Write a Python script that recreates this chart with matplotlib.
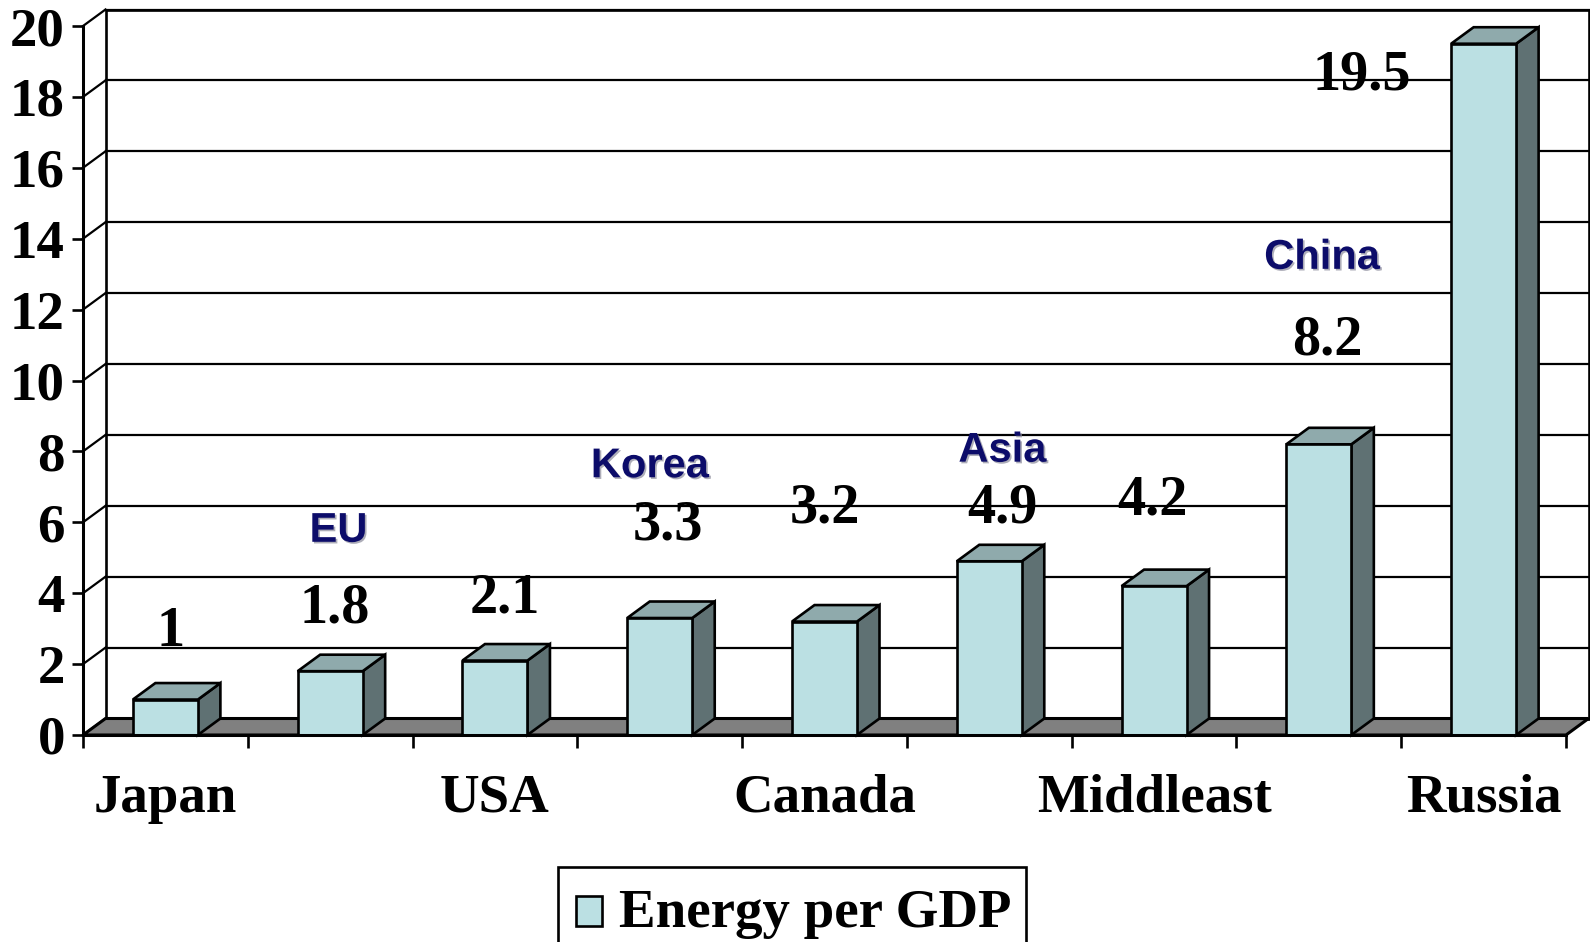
import matplotlib
matplotlib.use("Agg")
import matplotlib.pyplot as plt
from matplotlib.patches import Polygon, Rectangle
import matplotlib.patheffects as pe

# ---- data -------------------------------------------------------------
categories = ["Japan", "EU", "USA", "Korea", "Canada", "Asia",
              "Middleast", "China", "Russia"]
values = [1, 1.8, 2.1, 3.3, 3.2, 4.9, 4.2, 8.2, 19.5]
axis_labels = ["Japan", "", "USA", "", "Canada", "", "Middleast", "", "Russia"]
series_name = "Energy per GDP"
y_ticks = list(range(0, 21, 2))

# region names written above some of the bars
region_names = ["EU", "Korea", "Asia", "China"]

# ---- layout (data coordinates of the text annotations) -----------------
value_label_xy = [(0.53, 2.52), (1.53, 3.17), (2.56, 3.45), (3.55, 5.51),
                  (4.50, 6.00), (5.58, 6.00), (6.49, 6.23), (7.55, 10.74),
                  (7.76, 18.22)]
region_label_xy = [(1.55, 5.45), (3.44, 7.27), (5.58, 7.71), (7.52, 13.15)]

# ---- style -------------------------------------------------------------
FRONT = "#BBE0E3"
TOP = "#8FAAAC"
SIDE = "#5F7173"
FLOOR = "#808080"
NAVY = "#0C0C6A"
SERIF = ["Liberation Serif", "DejaVu Serif"]
SANS = ["Liberation Sans", "DejaVu Sans"]
LW = 1.9      # outlines
GLW = 1.6     # gridlines

W, H, DPI = 1590, 942, 100
fig = plt.figure(figsize=(W / DPI, H / DPI), dpi=DPI)
fig.patch.set_facecolor("white")

# front plane of the 3-D box, in pixels
fx0, fx1, fy0, fy1 = 83, 1566, 735, 26
ax = fig.add_axes([fx0 / W, (H - fy0) / H, (fx1 - fx0) / W, (fy0 - fy1) / H])
n = len(categories)
ax.set_xlim(0, n)
ax.set_ylim(0, 20)
ax.patch.set_visible(False)

# oblique depth offset expressed in data units
depth_px = (22.5, 16.5)
dx = depth_px[0] * n / (fx1 - fx0)
dy = depth_px[1] * 20 / (fy0 - fy1)

# back wall with gridlines
ax.add_patch(Rectangle((dx, dy), n, 20, facecolor="white", edgecolor="black",
                       lw=LW, clip_on=False, zorder=1))
for t in y_ticks:
    ax.plot([dx, n + dx], [t + dy, t + dy], color="black", lw=GLW,
            clip_on=False, zorder=1.5)
    # connector on the left side wall
    ax.plot([0, dx], [t, t + dy], color="black", lw=GLW,
            clip_on=False, zorder=1.5)

# floor
ax.add_patch(Polygon([(0, 0), (n, 0), (n + dx, dy), (dx, dy)], closed=True,
                     facecolor=FLOOR, edgecolor="black", lw=LW + 0.3,
                     clip_on=False, zorder=2))

# bars
bw = 65 / ((fx1 - fx0) / n)
for i, v in enumerate(values):
    x0 = i + 0.5 - bw / 2
    x1 = i + 0.5 + bw / 2
    kw = dict(edgecolor="black", lw=LW, clip_on=False, joinstyle="miter")
    ax.add_patch(Polygon([(x1, 0), (x1 + dx, dy), (x1 + dx, v + dy), (x1, v)],
                         closed=True, facecolor=SIDE, zorder=3, **kw))
    ax.add_patch(Polygon([(x0, v), (x1, v), (x1 + dx, v + dy), (x0 + dx, v + dy)],
                         closed=True, facecolor=TOP, zorder=3, **kw))
    ax.add_patch(Rectangle((x0, 0), bw, v, facecolor=FRONT, zorder=3.2, **kw))

# axes: front vertical axis and front floor edge
for s in ("top", "right"):
    ax.spines[s].set_visible(False)
for s in ("left", "bottom"):
    ax.spines[s].set_linewidth(LW * 1.15)
    ax.spines[s].set_zorder(4)

ax.set_yticks(y_ticks)
ax.set_yticklabels([str(t) for t in y_ticks], fontfamily=SERIF,
                   fontweight="bold", fontsize=39.5)
ax.tick_params(axis="y", direction="out", length=8, width=LW, pad=5)

ax.set_xticks(range(n + 1))
ax.set_xticklabels([""] * (n + 1))
ax.tick_params(axis="x", which="major", direction="out", length=9.5,
               width=LW)
ax.set_xticks([i + 0.5 for i in range(n)], minor=True)
ax.set_xticklabels(axis_labels, minor=True, fontfamily=SERIF,
                   fontweight="bold", fontsize=39.5)
ax.tick_params(axis="x", which="minor", length=0, pad=28)

# value labels
for v, (lx, ly) in zip(values, value_label_xy):
    txt = f"{v:g}"
    ax.text(lx, ly, txt, ha="center", va="baseline", fontfamily=SERIF,
            fontweight="bold", fontsize=40.5, color="black", zorder=5,
            clip_on=False)

# region names
shadow = [pe.withSimplePatchShadow(offset=(1.2, -1.2), shadow_rgbFace="#8a8a9a",
                                   alpha=0.7)]
for name, (lx, ly) in zip(region_names, region_label_xy):
    ax.text(lx, ly, name, ha="center", va="baseline", fontfamily=SANS,
            fontweight="bold", fontsize=30, color=NAVY, zorder=5,
            path_effects=shadow, clip_on=False)

# legend box at the bottom
lx0, ly0, lx1, ly1 = 558, 867, 1026, 952
fig.add_artist(Rectangle((lx0 / W, 1 - ly1 / H), (lx1 - lx0) / W, (ly1 - ly0) / H,
                         transform=fig.transFigure, facecolor="white",
                         edgecolor="black", lw=LW, clip_on=False))
fig.add_artist(Rectangle((576 / W, 1 - 926 / H), 26 / W, 30 / H,
                         transform=fig.transFigure, facecolor=FRONT,
                         edgecolor="black", lw=LW))
fig.text(619 / W, 1 - 927 / H, series_name, ha="left", va="baseline",
         fontfamily=SERIF, fontweight="bold", fontsize=39.5)

fig.savefig("out.png", dpi=DPI, facecolor="white")
